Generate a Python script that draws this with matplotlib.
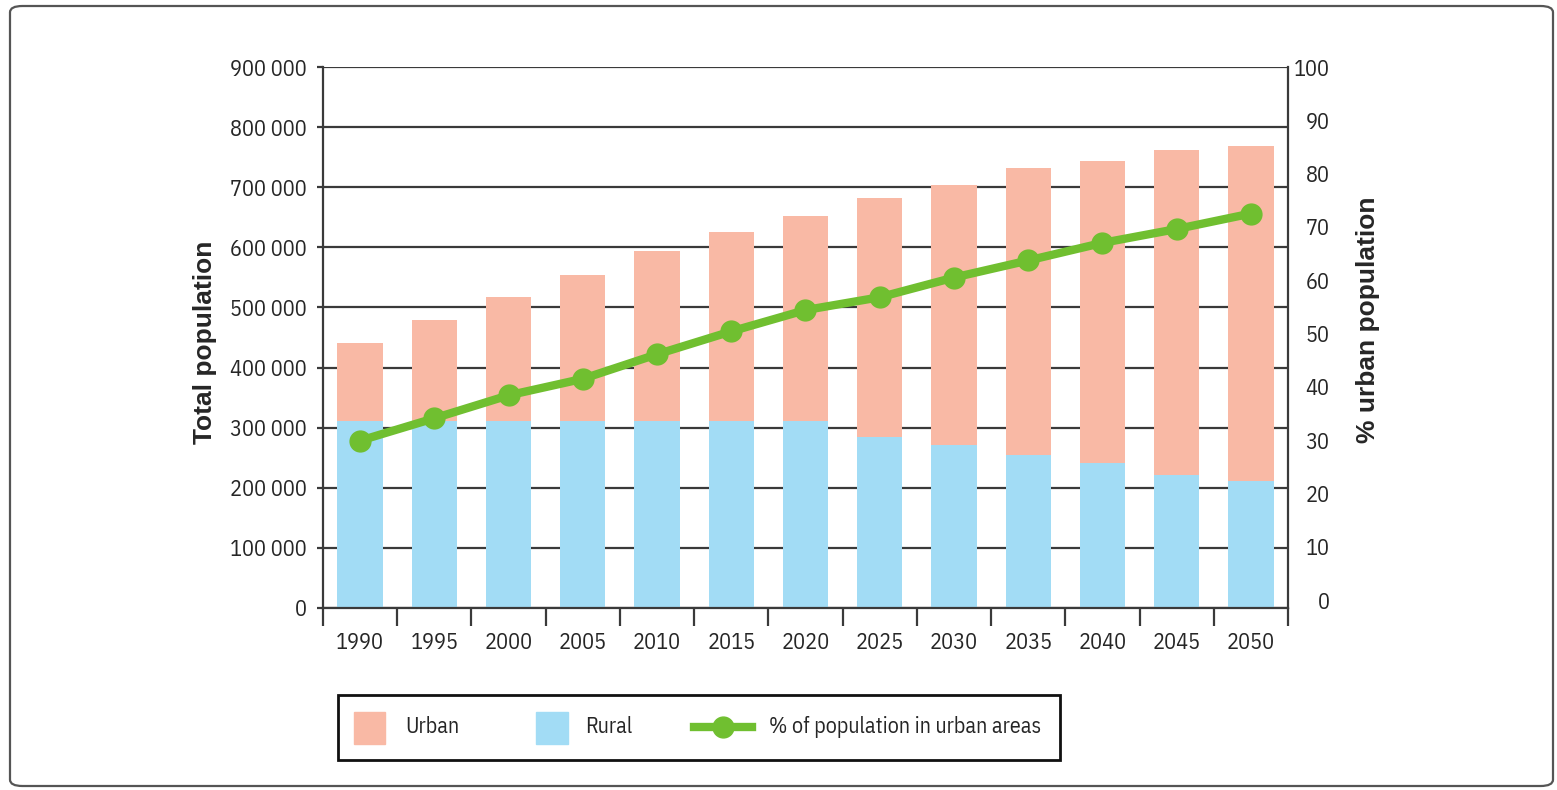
import numpy as np
import matplotlib
matplotlib.use("Agg")
import matplotlib.pyplot as plt
from matplotlib.patches import Rectangle, FancyBboxPatch
from matplotlib.lines import Line2D

# data
years = ["1990", "1995", "2000", "2005", "2010", "2015", "2020",
         "2025", "2030", "2035", "2040", "2045", "2050"]
rural = [311000, 311000, 311000, 311000, 311000, 311000, 311000,
         285000, 271000, 255000, 241000, 221000, 211000]
total = [441000, 479000, 518000, 554000, 594000, 626000, 652000,
         682000, 704000, 732000, 744000, 762000, 769000]
pct_urban = [29.9, 34.1, 38.4, 41.5, 46.1, 50.4, 54.4,
             56.8, 60.5, 63.7, 67.0, 69.6, 72.5]
legend_labels = ["Urban", "Rural", "% of population in urban areas"]

urban = [t - r for t, r in zip(total, rural)]

c_urban = "#F9B9A5"
c_rural = "#A2DCF5"
c_line = "#70BF30"
grid_c = "#3a3a3a"
txt_c = "#262626"

plt.rcParams["font.family"] = ["IBM Plex Sans Condensed", "DejaVu Sans"]

W, H = 1557, 790
fig = plt.figure(figsize=(W / 100, H / 100), dpi=100)


def fx(px):
    return px / W


def fy(py):
    return 1 - py / H


ax = fig.add_axes([fx(323), fy(608), 965 / W, 541 / H])

x = np.arange(len(years))
ax.bar(x, rural, width=0.61, color=c_rural, zorder=2)
ax.bar(x, urban, width=0.61, bottom=rural, color=c_urban, zorder=2)

ax.set_xlim(-0.5, len(years) - 0.5)
ax.set_ylim(0, 900000)
ax.set_yticks(np.arange(0, 900001, 100000))
ax.set_yticklabels(["0"] + ["%d 000" % (v // 1000) for v in range(100000, 900001, 100000)])
ax.yaxis.grid(True, color=grid_c, linewidth=1.6)
ax.set_axisbelow(True)

ax.set_xticks(x)
ax.set_xticklabels(years)
ax.set_xticks(np.arange(-0.5, len(years), 1.0), minor=True)
ax.tick_params(axis="x", which="major", length=0, pad=17, labelsize=16, labelcolor=txt_c)
ax.tick_params(axis="x", which="minor", length=13, width=1.6, color=grid_c)
ax.tick_params(axis="y", which="major", length=4.5, width=1.6, color=grid_c, pad=7,
               labelsize=16, labelcolor=txt_c, right=True, direction="out")

ax.spines["top"].set_visible(False)
for s in ["left", "right", "bottom"]:
    ax.spines[s].set_color(grid_c)
    ax.spines[s].set_linewidth(1.6)

bold_font = dict(fontsize=19, fontweight="bold",
                 family=["Liberation Sans", "DejaVu Sans"], color=txt_c)
ax.set_ylabel("Total population", ha="center", va="center", **bold_font)
ax.yaxis.set_label_coords((205 - 323) / 965, (608 - 342) / 541)

ax2 = ax.twinx()
ax2.plot(x, pct_urban, color=c_line, linewidth=6, marker="o", markersize=15,
         zorder=5)
ax2.set_ylim(-1.5, 100)
ax2.set_yticks(np.arange(0, 101, 10))
ax2.tick_params(axis="y", length=0, pad=30, labelsize=16, labelcolor=txt_c)
for lab in ax2.get_yticklabels():
    lab.set_horizontalalignment("right")
for s in ax2.spines.values():
    s.set_visible(False)
ax2.set_ylabel("% urban population", rotation=90, ha="center", va="center", **bold_font)
ax2.yaxis.set_label_coords((1368 - 323) / 965, (608 - 320) / 541)

# legend box, laid out like the original
fig.patches.append(Rectangle((fx(338), fy(760)), fx(1060) - fx(338), fy(695) - fy(760),
                             transform=fig.transFigure, fill=False,
                             edgecolor="#111", linewidth=2))
fig.patches.append(Rectangle((fx(354), fy(744)), fx(385) - fx(354), fy(712) - fy(744),
                             transform=fig.transFigure, color=c_urban))
fig.patches.append(Rectangle((fx(536), fy(744)), fx(568) - fx(536), fy(712) - fy(744),
                             transform=fig.transFigure, color=c_rural))
fig.lines.append(Line2D([fx(694), fx(752)], [fy(727), fy(727)], transform=fig.transFigure,
                        color=c_line, linewidth=6))
fig.lines.append(Line2D([fx(723)], [fy(727)], transform=fig.transFigure,
                        color=c_line, marker="o", markersize=15))
for xp, lab in zip([405, 585, 769], legend_labels):
    fig.text(fx(xp), fy(727), lab, ha="left", va="center", fontsize=15.8, color=txt_c)

# outer rounded frame
frame = FancyBboxPatch((fx(10), 4 / H), 1543 / W, 780 / H,
                       boxstyle="round,pad=0,rounding_size=0.008",
                       transform=fig.transFigure, fill=False,
                       edgecolor="#555", linewidth=1.6)
fig.patches.append(frame)

fig.savefig("out.png", dpi=100)
